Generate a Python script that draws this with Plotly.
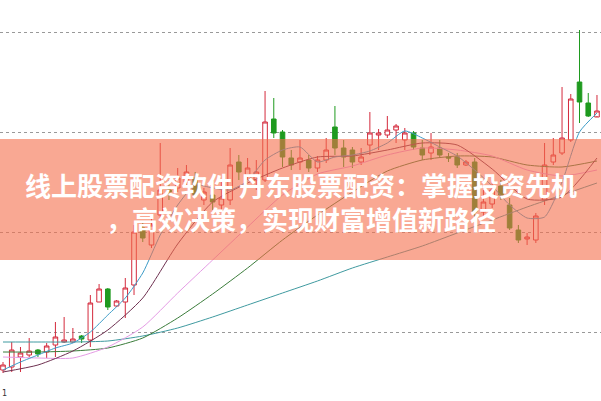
import plotly.graph_objects as go

# ---- data (prices) ----
opens = [6.2, 6.5, 7.5, 7.7, 8.2, 8.0, 8.7, 9.0, 9.0, 9.6,
         9.2, 13.0, 14.3, 12.6, 13.0, 14.7, 20.4, 18.7, 21.7, 24.2,
         24.4, 25.0, 25.4, 23.2, 23.7, 22.7, 23.2, 27.0, 25.7, 25.2,
         25.2, 31.3, 30.0, 27.4, 27.0, 27.2, 26.4, 27.2, 30.5, 28.4,
         28.2, 27.0, 28.7, 29.7, 29.7, 30.2, 29.2, 29.9, 28.4, 27.9,
         28.4, 27.5, 27.5, 26.7, 27.0, 22.0, 22.8, 24.6, 22.7, 20.2,
         19.3, 19.2, 23.2, 27.0, 27.9, 29.2, 35.0, 32.9, 31.5]
highs = [7.0, 9.0, 8.5, 9.4, 8.3, 8.9, 11.0, 11.5, 10.4, 9.7,
         13.7, 14.8, 14.4, 13.2, 15.4, 20.7, 21.0, 21.4, 28.9, 25.2,
         26.4, 26.7, 26.0, 24.4, 24.9, 25.2, 28.4, 27.7, 27.4, 27.2,
         34.1, 33.4, 30.2, 28.2, 29.2, 27.7, 27.6, 29.4, 32.6, 29.2,
         28.5, 28.4, 32.0, 30.3, 31.6, 30.8, 30.4, 30.1, 29.2, 29.9,
         29.2, 27.9, 27.9, 27.2, 27.4, 24.2, 25.2, 25.2, 23.4, 20.7,
         19.9, 21.9, 28.9, 29.4, 34.5, 33.8, 40.2, 33.9, 33.7]
lows = [5.9, 6.0, 6.0, 7.5, 7.5, 7.4, 7.5, 8.9, 8.9, 8.9,
        8.5, 13.0, 12.2, 12.5, 11.4, 13.7, 19.0, 18.4, 21.0, 23.2,
        24.0, 24.6, 23.4, 22.7, 22.2, 22.2, 22.7, 25.2, 25.2, 24.2,
        25.0, 29.4, 26.5, 26.2, 26.2, 26.0, 26.0, 26.9, 27.7, 26.5,
        26.4, 26.7, 27.7, 28.2, 29.4, 28.9, 28.2, 28.2, 27.2, 27.2,
        27.4, 27.0, 26.4, 26.6, 21.5, 21.5, 22.4, 23.2, 20.2, 18.9,
        18.7, 18.9, 22.7, 26.7, 27.7, 29.0, 30.9, 31.5, 31.6]
closes = [6.7, 8.2, 7.9, 8.1, 7.8, 8.6, 9.5, 9.2, 9.3, 9.3,
          12.9, 14.3, 12.5, 13.1, 14.4, 20.0, 19.4, 20.7, 24.2, 24.0,
          25.4, 26.0, 23.7, 24.0, 23.0, 23.4, 26.7, 26.0, 26.4, 26.0,
          31.0, 29.9, 27.5, 26.7, 27.4, 26.4, 27.2, 28.2, 28.4, 27.5,
          27.0, 27.5, 29.9, 29.9, 30.2, 30.6, 29.9, 28.5, 27.7, 28.5,
          27.7, 27.4, 26.7, 27.0, 22.0, 23.0, 24.2, 23.7, 20.4, 19.2,
          19.5, 21.6, 26.7, 27.7, 29.4, 33.3, 33.0, 31.6, 32.1]
days = list(range(len(closes)))

# moving averages
ma5_days = list(range(0, 69, 2))
ma5 = [6.2, 7.0, 7.7, 8.4, 8.9, 10.0, 11.7, 13.4, 15.9, 19.7, 22.7, 24.7,
       24.4, 24.2, 25.1, 27.2, 28.2, 28.5, 27.0, 27.5, 27.7, 28.1, 28.9,
       30.1, 29.4, 28.5, 27.6, 26.2, 24.6, 22.7, 21.4, 21.5, 25.0, 30.0, 31.9]
ma_days = list(range(0, 69, 4))
ma10 = [6.0, 6.7, 8.1, 10.2, 13.4, 18.8, 23.0, 24.9, 26.4, 27.5, 27.6, 28.2,
        28.9, 28.7, 26.3, 23.3, 23.5, 27.4]
ma20 = [7.5, 7.4, 7.4, 8.5, 10.5, 13.9, 17.2, 20.5, 23.7, 25.8, 26.6, 27.7,
        28.4, 28.2, 27.6, 26.2, 25.6, 26.2]
ma30 = [8.0, 8.0, 8.1, 8.4, 9.4, 11.4, 13.8, 16.4, 19.2, 21.7, 24.0, 26.1,
        27.2, 27.6, 27.5, 26.7, 26.5, 27.1]
ma60 = [9.0, 9.0, 9.0, 9.1, 9.6, 10.4, 11.5, 12.7, 13.9, 15.1, 16.4, 17.5,
        18.6, 19.9, 21.2, 22.5, 23.7, 24.9]
grid_levels = [10, 20, 30, 40]

title_line1 = "线上股票配资软件 丹东股票配资：掌握投资先机"
title_line2 = "，高效决策，实现财富增值新路径"

fig = go.Figure()

for xs, ys, col in [(ma_days, ma60, "#3f9aa0"), (ma_days, ma30, "#3b7d3b"),
                    (ma_days, ma20, "#e59be5"), (ma_days, ma10, "#6e3050"),
                    (ma5_days, ma5, "#3d9cc8")]:
    fig.add_trace(go.Scatter(x=xs, y=ys, mode="lines",
                             line=dict(color=col, width=1, shape="spline", smoothing=0.6),
                             hoverinfo="skip", showlegend=False))

fig.add_trace(go.Candlestick(
    x=days, open=opens, high=highs, low=lows, close=closes,
    increasing=dict(line=dict(color="#d42a3c", width=1), fillcolor="white"),
    decreasing=dict(line=dict(color="#1f9a1f", width=1), fillcolor="#1f9a1f"),
    showlegend=False))

fig.add_shape(type="rect", xref="paper", yref="paper", x0=0, x1=1,
              y0=1 - 260 / 401, y1=1 - 139 / 401,
              fillcolor="rgba(245,110,75,0.6)", line=dict(width=0), layer="above")

fig.add_annotation(xref="paper", yref="paper", x=0.5, y=1 - 201 / 401,
                   text="<b>" + title_line1 + "<br>" + title_line2 + "</b>",
                   showarrow=False, align="center", xanchor="center", yanchor="middle",
                   font=dict(family="Noto Sans CJK SC", size=26, color="white"))

fig.add_annotation(xref="paper", yref="paper", x=0.0, y=1 - 393 / 401,
                   text="1", showarrow=False, xanchor="left", yanchor="middle",
                   font=dict(family="DejaVu Sans", size=8, color="#333"))

fig.update_layout(
    width=601, height=401, margin=dict(l=0, r=0, t=0, b=0),
    paper_bgcolor="white", plot_bgcolor="white", boxgap=0.25,
    xaxis=dict(range=[-0.343, 68.46], showgrid=False, showticklabels=False,
               zeroline=False, rangeslider=dict(visible=False), fixedrange=True),
    yaxis=dict(range=[3.1, 43.2], tickvals=grid_levels, showticklabels=False,
               gridcolor="#999", griddash="dot", gridwidth=1, zeroline=False,
               fixedrange=True),
)

fig.write_html("out.html", config={"displayModeBar": False},
               post_script="document.body.style.margin='0';")
